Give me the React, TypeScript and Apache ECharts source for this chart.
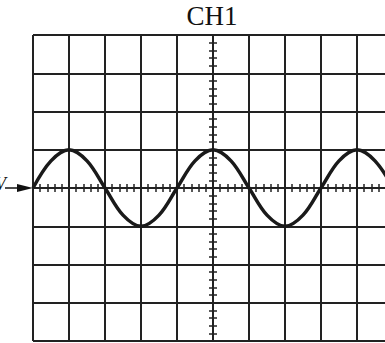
import React, { useEffect, useRef } from "react";
import * as echarts from "echarts";

// time in divisions (centre = 0), voltage in divisions
const timeDiv = [-5, -4.5, -4, -3.5, -3, -2.5, -2, -1.5, -1, -0.5, 0, 0.5, 1, 1.5, 2, 2.5, 3, 3.5, 4, 4.5, 5];
const voltDiv = [0, 0.71, 1, 0.71, 0, -0.71, -1, -0.71, 0, 0.71, 1, 0.71, 0, -0.71, -1, -0.71, 0, 0.71, 1, 0.71, 0];
const titleText = "CH1";
const markerText = "V";

const INK = "#222";

export default function App() {
  const ref = useRef<HTMLDivElement>(null);
  useEffect(() => {
    if (!ref.current) return;
    const chart = echarts.init(ref.current, undefined, { renderer: "svg" });
    const hidden = { show: false };
    const gridLine = { show: true, lineStyle: { color: INK, width: 2 } };
    const tickAxisX = (pos: "top" | "bottom") => ({
      type: "value",
      position: pos,
      min: -5,
      max: 5,
      interval: 0.2,
      axisLine: { show: true, onZero: true, lineStyle: { color: INK, width: 2 } },
      axisTick: { show: true, length: 4, lineStyle: { color: INK, width: 1.5 } },
      axisLabel: hidden,
      splitLine: hidden,
    });
    const tickAxisY = (pos: "left" | "right") => ({
      type: "value",
      position: pos,
      min: -4,
      max: 4,
      interval: 0.2,
      axisLine: { show: true, onZero: true, lineStyle: { color: INK, width: 2 } },
      axisTick: { show: true, length: 4, lineStyle: { color: INK, width: 1.5 } },
      axisLabel: hidden,
      splitLine: hidden,
    });
    chart.setOption({
      animation: false,
      backgroundColor: "#fff",
      grid: {
        left: 33,
        top: 35,
        width: 360,
        height: 306,
        containLabel: false,
        outerBoundsMode: "none",
      },
      xAxis: [
        {
          type: "value",
          min: -5,
          max: 5,
          interval: 1,
          axisLine: hidden,
          axisTick: hidden,
          axisLabel: hidden,
          splitLine: gridLine,
        },
        tickAxisX("bottom"),
        tickAxisX("top"),
      ],
      yAxis: [
        {
          type: "value",
          min: -4,
          max: 4,
          interval: 1,
          axisLine: hidden,
          axisTick: hidden,
          axisLabel: hidden,
          splitLine: gridLine,
        },
        tickAxisY("left"),
        tickAxisY("right"),
      ],
      series: [
        {
          type: "line",
          xAxisIndex: 0,
          yAxisIndex: 0,
          data: timeDiv.map((t, i) => [t, voltDiv[i]]),
          smooth: 0.35,
          showSymbol: false,
          lineStyle: { color: "#1a1a1a", width: 3.5 },
        },
      ],
    });
    const p = chart.convertToPixel({ gridIndex: 0 }, [-5, 0]) as number[];
    const cx = (chart.convertToPixel({ gridIndex: 0 }, [0, 0]) as number[])[0];
    const zy = p[1];
    const lx = p[0];
    chart.setOption({
      graphic: [
        {
          type: "text",
          style: {
            text: titleText,
            x: cx - 1,
            y: 16,
            align: "center",
            verticalAlign: "middle",
            font: '27px "Liberation Serif", "Times New Roman", serif',
            fill: "#111",
          },
        },
        {
          type: "text",
          style: {
            text: markerText,
            x: 6,
            y: zy - 4,
            align: "right",
            verticalAlign: "middle",
            font: 'italic 18px "Liberation Serif", "Times New Roman", serif',
            fill: "#111",
          },
        },
        {
          type: "line",
          shape: { x1: 5, y1: zy, x2: lx - 10, y2: zy },
          style: { stroke: "#111", lineWidth: 1.5 },
        },
        {
          type: "polygon",
          shape: { points: [[lx - 16, zy - 4], [lx, zy], [lx - 16, zy + 4]] },
          style: { fill: "#111" },
        },
      ],
    });
    return () => chart.dispose();
  }, []);
  return (
    <div
      ref={ref}
      style={{ position: "absolute", left: 0, top: 0, width: 385, height: 343 }}
    />
  );
}
